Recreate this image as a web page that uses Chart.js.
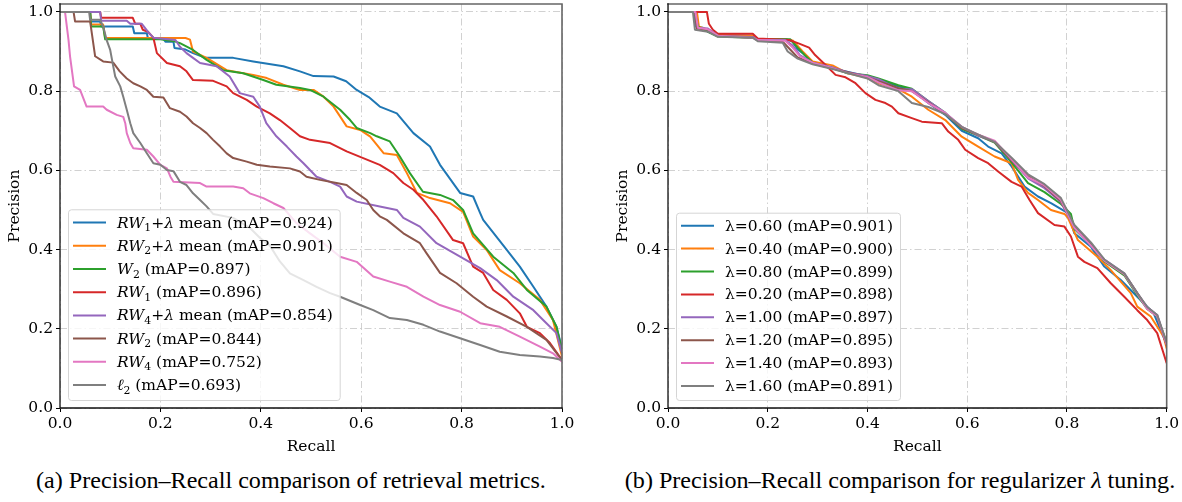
<!DOCTYPE html>
<html>
<head>
<meta charset="utf-8">
<script src="https://cdn.jsdelivr.net/npm/chart.js@4.4.1/dist/chart.umd.min.js"></script>
<style>
  body { margin: 0; background: #fff; width: 1182px; height: 502px; position: relative; overflow: hidden; }
  .panel { position: absolute; top: 0; }
  .caption { position: absolute; font-family: 'Liberation Serif', serif; line-height: 1;
             white-space: nowrap; transform: translateX(-50%); color: #000; }
</style>
</head>
<body>
<div class="panel" style="left:0"><canvas id="chartA" width="590" height="460"></canvas></div>
<div class="panel" style="left:608px"><canvas id="chartB" width="574" height="460"></canvas></div>
<div class="caption" id="capA" style="left:291px">(a) Precision–Recall comparison of retrieval metrics.</div>
<div class="caption" id="capB" style="left:900px">(b) Precision–Recall comparison for regularizer <i>λ</i> tuning.</div>
<script>
// ========== Data ==========
const xTicks = [0, 0.2, 0.4, 0.6, 0.8, 1.0];
const yTicks = [0, 0.2, 0.4, 0.6, 0.8, 1.0];
const colors = ['#1f77b4', '#ff7f0e', '#2ca02c', '#d62728', '#9467bd', '#8c564b', '#e377c2', '#7f7f7f'];

// left panel: *italic*, _x = subscript
const leftNames = ['*RW*_1+*λ* mean', '*RW*_2+*λ* mean', '*W*_2', '*RW*_1', '*RW*_4+*λ* mean', '*RW*_2', '*RW*_4', '*ℓ*_2'];
const leftMAP = [0.924, 0.901, 0.897, 0.896, 0.854, 0.844, 0.752, 0.693];

// right panel
const rightLambdas = ['0.60', '0.40', '0.80', '0.20', '1.00', '1.20', '1.40', '1.60'];
const rightMAP = [0.901, 0.900, 0.899, 0.898, 0.897, 0.895, 0.893, 0.891];

// [recall, precision]
const prRW1Mean = [[0,1],[0.06,1],[0.062,0.976],[0.08,0.976],[0.082,0.963],[0.145,0.963],[0.148,0.946],[0.173,0.946],[0.175,0.934],[0.205,0.934],[0.21,0.925],[0.226,0.925],[0.228,0.909],[0.25,0.905],[0.265,0.896],[0.29,0.884],[0.345,0.884],[0.385,0.875],[0.445,0.863],[0.478,0.85],[0.505,0.838],[0.545,0.837],[0.57,0.825],[0.591,0.803],[0.615,0.785],[0.637,0.761],[0.671,0.744],[0.704,0.694],[0.737,0.66],[0.757,0.614],[0.797,0.543],[0.823,0.534],[0.837,0.492],[0.843,0.475],[0.89,0.399],[0.916,0.357],[0.943,0.306],[0.969,0.256],[0.989,0.205],[1.0,0.15]];
const prRW2Mean = [[0,1],[0.06,1],[0.062,0.968],[0.086,0.968],[0.09,0.934],[0.25,0.934],[0.259,0.93],[0.265,0.9],[0.272,0.896],[0.292,0.884],[0.332,0.853],[0.385,0.841],[0.412,0.833],[0.445,0.816],[0.478,0.803],[0.505,0.803],[0.525,0.786],[0.545,0.761],[0.571,0.711],[0.598,0.702],[0.618,0.685],[0.645,0.643],[0.671,0.639],[0.691,0.593],[0.711,0.543],[0.737,0.53],[0.777,0.517],[0.803,0.495],[0.823,0.433],[0.85,0.399],[0.876,0.348],[0.916,0.315],[0.956,0.273],[0.982,0.222],[1.0,0.13]];
const prW2 = [[0,1],[0.06,1],[0.062,0.963],[0.086,0.963],[0.09,0.931],[0.2,0.931],[0.23,0.925],[0.239,0.921],[0.265,0.904],[0.292,0.879],[0.325,0.853],[0.365,0.845],[0.405,0.828],[0.431,0.816],[0.478,0.808],[0.498,0.803],[0.525,0.786],[0.558,0.753],[0.578,0.727],[0.591,0.707],[0.618,0.694],[0.631,0.686],[0.657,0.673],[0.677,0.635],[0.697,0.593],[0.723,0.546],[0.757,0.538],[0.783,0.525],[0.803,0.5],[0.823,0.441],[0.863,0.382],[0.903,0.341],[0.93,0.298],[0.969,0.256],[0.989,0.205],[1.0,0.145]];
const prRW1 = [[0,1],[0.08,1],[0.082,0.985],[0.145,0.985],[0.15,0.97],[0.16,0.97],[0.165,0.955],[0.175,0.95],[0.186,0.935],[0.193,0.896],[0.213,0.871],[0.239,0.863],[0.252,0.85],[0.265,0.828],[0.305,0.826],[0.332,0.812],[0.345,0.795],[0.372,0.778],[0.392,0.761],[0.418,0.744],[0.438,0.727],[0.458,0.707],[0.478,0.686],[0.498,0.677],[0.538,0.669],[0.571,0.648],[0.604,0.631],[0.637,0.614],[0.664,0.593],[0.684,0.568],[0.704,0.551],[0.724,0.525],[0.75,0.484],[0.783,0.424],[0.803,0.416],[0.823,0.357],[0.843,0.341],[0.863,0.298],[0.89,0.273],[0.916,0.239],[0.93,0.205],[0.956,0.189],[0.976,0.164],[1.0,0.121]];
const prRW4Mean = [[0,1],[0.08,1],[0.082,0.978],[0.133,0.978],[0.14,0.97],[0.163,0.97],[0.175,0.95],[0.186,0.935],[0.23,0.929],[0.239,0.912],[0.252,0.896],[0.265,0.884],[0.279,0.871],[0.312,0.863],[0.338,0.837],[0.358,0.795],[0.385,0.786],[0.398,0.761],[0.411,0.719],[0.431,0.686],[0.452,0.66],[0.471,0.635],[0.485,0.618],[0.511,0.584],[0.538,0.571],[0.558,0.559],[0.571,0.534],[0.591,0.521],[0.637,0.509],[0.671,0.5],[0.684,0.48],[0.717,0.458],[0.75,0.416],[0.797,0.382],[0.837,0.353],[0.87,0.323],[0.903,0.281],[0.943,0.247],[0.969,0.214],[0.989,0.189],[1.0,0.138]];
const prRW2 = [[0,1],[0.027,1],[0.03,0.976],[0.06,0.976],[0.07,0.888],[0.086,0.875],[0.106,0.872],[0.119,0.85],[0.133,0.832],[0.146,0.82],[0.16,0.812],[0.173,0.803],[0.186,0.786],[0.206,0.784],[0.219,0.757],[0.239,0.748],[0.252,0.736],[0.265,0.719],[0.279,0.707],[0.292,0.694],[0.305,0.677],[0.319,0.66],[0.332,0.643],[0.345,0.631],[0.372,0.622],[0.392,0.614],[0.418,0.61],[0.458,0.605],[0.478,0.597],[0.491,0.584],[0.518,0.576],[0.551,0.568],[0.571,0.563],[0.591,0.543],[0.611,0.525],[0.624,0.5],[0.637,0.484],[0.651,0.475],[0.684,0.441],[0.717,0.416],[0.73,0.391],[0.757,0.341],[0.79,0.315],[0.823,0.281],[0.85,0.256],[0.89,0.231],[0.93,0.205],[0.969,0.172],[1.0,0.121]];
const prRW4 = [[0,1],[0.01,1],[0.017,0.929],[0.02,0.888],[0.028,0.812],[0.04,0.803],[0.053,0.761],[0.086,0.761],[0.093,0.753],[0.113,0.74],[0.126,0.735],[0.13,0.719],[0.133,0.694],[0.14,0.669],[0.146,0.656],[0.173,0.652],[0.186,0.635],[0.2,0.614],[0.213,0.605],[0.22,0.584],[0.226,0.571],[0.279,0.568],[0.292,0.559],[0.345,0.559],[0.365,0.555],[0.378,0.542],[0.405,0.53],[0.425,0.517],[0.445,0.505],[0.471,0.467],[0.498,0.441],[0.525,0.416],[0.558,0.382],[0.591,0.369],[0.624,0.332],[0.657,0.319],[0.691,0.306],[0.724,0.281],[0.757,0.26],[0.797,0.243],[0.837,0.214],[0.876,0.205],[0.916,0.18],[0.956,0.155],[0.982,0.138],[1.0,0.117]];
const prL2 = [[0,1],[0.058,1],[0.06,0.98],[0.08,0.98],[0.086,0.963],[0.093,0.929],[0.1,0.904],[0.106,0.863],[0.11,0.837],[0.12,0.812],[0.126,0.786],[0.133,0.753],[0.14,0.719],[0.146,0.694],[0.16,0.669],[0.173,0.643],[0.186,0.618],[0.2,0.614],[0.213,0.601],[0.226,0.598],[0.239,0.571],[0.252,0.563],[0.265,0.542],[0.279,0.525],[0.292,0.509],[0.305,0.49],[0.345,0.48],[0.378,0.455],[0.398,0.43],[0.418,0.41],[0.438,0.37],[0.458,0.34],[0.485,0.323],[0.511,0.306],[0.538,0.29],[0.558,0.281],[0.598,0.26],[0.624,0.247],[0.657,0.227],[0.691,0.222],[0.724,0.21],[0.757,0.193],[0.797,0.176],[0.837,0.159],[0.876,0.142],[0.916,0.134],[0.956,0.13],[0.982,0.126],[1.0,0.121]];

const prLam060 = [[0,1],[0.052,1],[0.056,0.963],[0.07,0.96],[0.08,0.95],[0.1,0.942],[0.17,0.94],[0.18,0.931],[0.237,0.931],[0.25,0.925],[0.26,0.905],[0.27,0.896],[0.29,0.871],[0.33,0.86],[0.355,0.85],[0.396,0.838],[0.422,0.828],[0.462,0.812],[0.489,0.803],[0.522,0.77],[0.556,0.74],[0.589,0.7],[0.622,0.681],[0.642,0.66],[0.669,0.643],[0.689,0.61],[0.715,0.559],[0.742,0.534],[0.768,0.517],[0.802,0.492],[0.815,0.441],[0.848,0.407],[0.875,0.357],[0.908,0.323],[0.941,0.281],[0.974,0.239],[1.0,0.16]];
const prLam040 = [[0,1],[0.058,1],[0.062,0.963],[0.08,0.955],[0.1,0.942],[0.17,0.94],[0.18,0.931],[0.23,0.931],[0.25,0.928],[0.27,0.9],[0.29,0.875],[0.33,0.865],[0.36,0.845],[0.396,0.835],[0.422,0.82],[0.462,0.805],[0.489,0.786],[0.522,0.753],[0.556,0.727],[0.589,0.685],[0.622,0.66],[0.655,0.635],[0.689,0.618],[0.702,0.576],[0.722,0.543],[0.742,0.525],[0.768,0.5],[0.795,0.49],[0.802,0.48],[0.822,0.424],[0.861,0.382],[0.888,0.348],[0.928,0.29],[0.941,0.256],[0.968,0.231],[0.994,0.18],[1.0,0.15]];
const prLam080 = [[0,1],[0.054,1],[0.06,0.963],[0.08,0.95],[0.1,0.938],[0.17,0.935],[0.18,0.931],[0.245,0.931],[0.26,0.91],[0.275,0.89],[0.29,0.872],[0.33,0.858],[0.36,0.845],[0.4,0.84],[0.422,0.832],[0.462,0.815],[0.489,0.806],[0.522,0.775],[0.556,0.745],[0.589,0.705],[0.622,0.688],[0.655,0.67],[0.689,0.62],[0.722,0.568],[0.755,0.545],[0.788,0.515],[0.808,0.49],[0.815,0.452],[0.848,0.412],[0.875,0.37],[0.915,0.335],[0.941,0.285],[0.961,0.25],[0.981,0.231],[1.0,0.165]];
const prLam020 = [[0,1],[0.078,1],[0.082,0.97],[0.09,0.955],[0.1,0.945],[0.17,0.945],[0.18,0.933],[0.243,0.929],[0.263,0.92],[0.283,0.91],[0.295,0.891],[0.316,0.866],[0.336,0.841],[0.356,0.835],[0.376,0.82],[0.396,0.795],[0.416,0.778],[0.436,0.77],[0.449,0.761],[0.462,0.744],[0.489,0.732],[0.509,0.723],[0.549,0.719],[0.562,0.698],[0.582,0.677],[0.596,0.652],[0.622,0.631],[0.642,0.618],[0.662,0.597],[0.689,0.571],[0.709,0.559],[0.725,0.525],[0.742,0.492],[0.775,0.462],[0.795,0.458],[0.808,0.433],[0.822,0.382],[0.835,0.369],[0.861,0.353],[0.888,0.315],[0.915,0.281],[0.941,0.247],[0.961,0.222],[0.981,0.189],[1.0,0.113]];
const prLam100 = [[0,1],[0.054,1],[0.058,0.96],[0.08,0.958],[0.1,0.94],[0.17,0.937],[0.18,0.929],[0.235,0.929],[0.25,0.915],[0.265,0.89],[0.29,0.872],[0.33,0.86],[0.36,0.848],[0.4,0.838],[0.422,0.83],[0.462,0.805],[0.489,0.805],[0.522,0.775],[0.556,0.745],[0.589,0.71],[0.622,0.688],[0.655,0.672],[0.689,0.625],[0.722,0.58],[0.755,0.555],[0.788,0.52],[0.815,0.455],[0.848,0.412],[0.875,0.375],[0.915,0.34],[0.941,0.29],[0.961,0.255],[0.981,0.235],[1.0,0.16]];
const prLam120 = [[0,1],[0.054,1],[0.058,0.958],[0.08,0.955],[0.1,0.94],[0.17,0.935],[0.18,0.928],[0.23,0.925],[0.245,0.905],[0.26,0.885],[0.29,0.87],[0.33,0.857],[0.36,0.848],[0.4,0.835],[0.422,0.825],[0.462,0.808],[0.489,0.8],[0.522,0.772],[0.556,0.742],[0.589,0.707],[0.622,0.69],[0.655,0.672],[0.689,0.625],[0.722,0.585],[0.755,0.56],[0.788,0.522],[0.815,0.458],[0.848,0.415],[0.875,0.372],[0.915,0.338],[0.941,0.29],[0.961,0.252],[0.981,0.232],[1.0,0.158]];
const prLam140 = [[0,1],[0.055,1],[0.06,0.96],[0.08,0.956],[0.1,0.94],[0.17,0.935],[0.18,0.929],[0.235,0.927],[0.25,0.91],[0.265,0.888],[0.29,0.872],[0.33,0.858],[0.36,0.846],[0.4,0.836],[0.422,0.822],[0.462,0.802],[0.489,0.8],[0.522,0.77],[0.556,0.745],[0.589,0.71],[0.622,0.69],[0.655,0.675],[0.689,0.628],[0.722,0.582],[0.755,0.562],[0.788,0.525],[0.815,0.455],[0.848,0.41],[0.875,0.372],[0.915,0.338],[0.941,0.288],[0.961,0.25],[0.981,0.232],[1.0,0.16]];
const prLam160 = [[0,1],[0.05,1],[0.054,0.955],[0.08,0.95],[0.1,0.937],[0.17,0.935],[0.18,0.926],[0.23,0.922],[0.24,0.9],[0.26,0.882],[0.29,0.868],[0.33,0.856],[0.36,0.846],[0.4,0.832],[0.422,0.815],[0.462,0.8],[0.489,0.77],[0.522,0.76],[0.556,0.742],[0.589,0.71],[0.622,0.69],[0.655,0.672],[0.689,0.632],[0.722,0.59],[0.755,0.565],[0.788,0.53],[0.815,0.462],[0.848,0.418],[0.875,0.375],[0.915,0.34],[0.941,0.29],[0.961,0.255],[0.981,0.235],[1.0,0.165]];

const leftCurves = [prRW1Mean, prRW2Mean, prW2, prRW1, prRW4Mean, prRW2, prRW4, prL2];
const rightCurves = [prLam060, prLam040, prLam080, prLam020, prLam100, prLam120, prLam140, prLam160];

// ========== Helpers ==========
const FONT = 'DejaVu Serif';
const FS = 15.5;

// "*RW*_1+*λ* mean" -> segments
function parseRich(s) {
    const segs = [];
    let buf = '', italic = false;
    const flush = () => { if (buf) segs.push({ t: buf, it: italic, sub: false }); buf = ''; };
    for (let i = 0; i < s.length; i++) {
        const c = s[i];
        if (c === '*') { flush(); italic = !italic; }
        else if (c === '_') { flush(); segs.push({ t: s[i + 1], it: italic, sub: true }); i++; }
        else buf += c;
    }
    flush();
    return segs;
}

function segFont(seg) {
    const size = seg.sub ? FS * 0.7 : FS;
    return (seg.it ? 'italic ' : '') + size + 'px "' + FONT + '"';
}

function measureRow(ctx, segs) {
    let w = 0;
    segs.forEach(seg => { ctx.font = segFont(seg); w += ctx.measureText(seg.t).width; });
    return w;
}

function drawRow(ctx, segs, x, y) {
    ctx.textBaseline = 'alphabetic';
    ctx.textAlign = 'left';
    ctx.fillStyle = '#000';
    segs.forEach(seg => {
        ctx.font = segFont(seg);
        ctx.fillText(seg.t, x, y + (seg.sub ? 3.5 : 0));
        x += ctx.measureText(seg.t).width;
    });
}

// ========== Plugins ==========
const frame = {
    id: 'frame',
    afterDatasetsDraw(chart) {
        const { ctx, chartArea: ca } = chart;
        ctx.save();
        ctx.lineCap = 'square';
        ctx.strokeStyle = '#666';
        ctx.lineWidth = 1.6;
        ctx.beginPath();
        ctx.moveTo(ca.left, ca.top); ctx.lineTo(ca.right, ca.top); ctx.lineTo(ca.right, ca.bottom);
        ctx.stroke();
        ctx.strokeStyle = '#111';
        ctx.lineWidth = 1.3;
        ctx.beginPath();
        ctx.moveTo(ca.left, ca.top); ctx.lineTo(ca.left, ca.bottom); ctx.lineTo(ca.right, ca.bottom);
        ctx.stroke();
        ctx.restore();
    }
};

const richLegend = {
    id: 'richLegend',
    afterDatasetsDraw(chart, args, opts) {
        const { ctx, chartArea: ca } = chart;
        const rows = opts.rows;
        const h = opts.padTop + (rows.length - 1) * opts.rowH + opts.padBottom;
        const x0 = ca.left + 8, y1 = ca.bottom - 8, y0 = y1 - h;
        ctx.save();
        let maxW = 0;
        rows.forEach(r => { maxW = Math.max(maxW, measureRow(ctx, r.segs)); });
        const w = 49 + maxW + 7;
        ctx.beginPath();
        ctx.roundRect(x0 + 0.5, y0 + 0.5, w, h, 3);
        ctx.fillStyle = 'rgba(255,255,255,0.8)';
        ctx.fill();
        ctx.strokeStyle = '#d5d5d5';
        ctx.lineWidth = 1;
        ctx.stroke();
        rows.forEach((r, k) => {
            const y = y0 + opts.padTop + k * opts.rowH;
            ctx.strokeStyle = r.color;
            ctx.lineWidth = 2;
            ctx.beginPath();
            ctx.moveTo(x0 + 5, y); ctx.lineTo(x0 + 38, y);
            ctx.stroke();
            drawRow(ctx, r.segs, x0 + 49, y + 5);
        });
        ctx.restore();
    }
};

// ========== Chart Builder ==========
function makeChart(id, curves, labels, legendOpts, padRight) {
    const tickFont = { family: FONT, size: FS };
    const gridOpts = {
        color: 'rgba(190,190,190,0.7)',
        lineWidth: 1,
        drawTicks: true,
        tickLength: 4,
        tickColor: '#000',
        tickWidth: 1,
        tickBorderDash: []
    };
    const borderOpts = { display: false, dash: [7, 3, 1.5, 3] };

    return new Chart(document.getElementById(id), {
        type: 'line',
        data: {
            datasets: curves.map((c, i) => ({
                label: labels[i],
                data: c.map(p => ({ x: p[0], y: p[1] })),
                borderColor: colors[i],
                backgroundColor: colors[i],
                borderWidth: 2,
                borderJoinStyle: 'round',
                pointRadius: 0,
                tension: 0,
                fill: false,
                order: curves.length - 1 - i
            }))
        },
        options: {
            responsive: false,
            animation: false,
            events: [],
            layout: { padding: { left: 2, top: 4, right: padRight, bottom: 0 } },
            plugins: {
                legend: { display: false },
                tooltip: { enabled: false },
                richLegend: legendOpts
            },
            scales: {
                x: {
                    type: 'linear',
                    min: 0,
                    max: 1,
                    afterBuildTicks: s => { s.ticks = xTicks.map(v => ({ value: v })); },
                    afterFit: s => { s.height = 52; },
                    ticks: { font: tickFont, color: '#000', padding: 3, maxRotation: 0, autoSkip: false,
                             callback: v => v.toFixed(1) },
                    grid: gridOpts,
                    border: borderOpts,
                    title: { display: true, text: 'Recall', font: tickFont, color: '#000', padding: { top: 4, bottom: 4 } }
                },
                y: {
                    type: 'linear',
                    min: 0,
                    max: 1.02,
                    afterBuildTicks: s => { s.ticks = yTicks.map(v => ({ value: v })); },
                    afterFit: s => { s.width = 58; s.paddingTop = 0; s.paddingBottom = 0; },
                    ticks: { font: tickFont, color: '#000', padding: 3, autoSkip: false,
                             callback: v => v.toFixed(1) },
                    grid: gridOpts,
                    border: borderOpts,
                    title: { display: true, text: 'Precision', font: tickFont, color: '#000', padding: { top: 4, bottom: 4 } }
                }
            }
        },
        plugins: [frame, richLegend]
    });
}

// ========== Captions: size so (a) spans ~510px, baseline near y=488 ==========
function placeCaptions() {
    const capA = document.getElementById('capA');
    const capB = document.getElementById('capB');
    const m = document.createElement('canvas').getContext('2d');
    m.font = '20px "Liberation Serif"';
    const size = 20 * 510 / m.measureText(capA.textContent).width;
    [capA, capB].forEach(el => {
        el.style.fontSize = size + 'px';
        el.style.top = (488 - 0.8375 * size) + 'px';
    });
}

document.addEventListener('DOMContentLoaded', () => {
    const leftLabels = leftNames.map((n, i) => n + ' (mAP=' + leftMAP[i].toFixed(3) + ')');
    const rightLabels = rightLambdas.map((l, i) => 'λ=' + l + ' (mAP=' + rightMAP[i].toFixed(3) + ')');

    makeChart('chartA', leftCurves, leftLabels.map(s => s.replace(/[*_]/g, '')), {
        rows: leftLabels.map((s, i) => ({ segs: parseRich(s), color: colors[i] })),
        padTop: 13.3, padBottom: 15, rowH: 23.2
    }, 28);

    makeChart('chartB', rightCurves, rightLabels, {
        rows: rightLabels.map((s, i) => ({ segs: parseRich(s), color: colors[i] })),
        padTop: 13, padBottom: 14, rowH: 22.9
    }, 12);

    placeCaptions();
});
</script>
</body>
</html>
